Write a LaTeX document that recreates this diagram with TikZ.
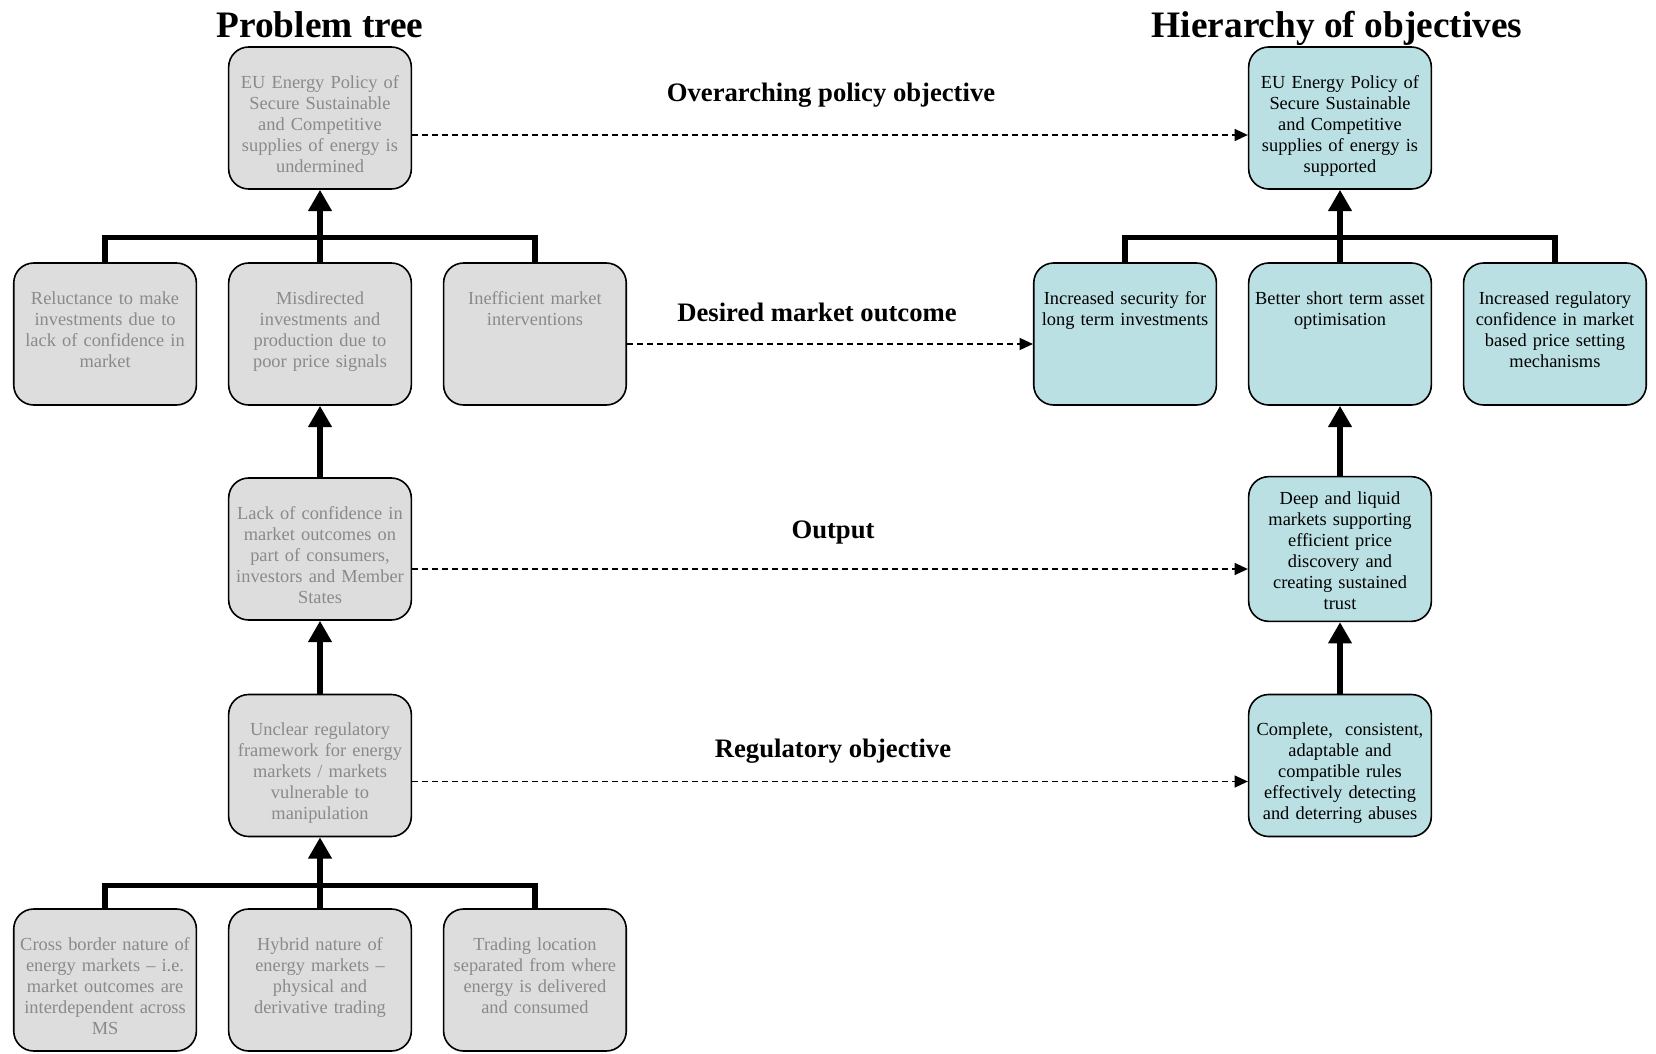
\documentclass[tikz,border=0pt]{standalone}
\usepackage{fontspec}
\setmainfont{Liberation Serif}
\usetikzlibrary{arrows.meta, calc, positioning}

\definecolor{probfill}{RGB}{221,221,221}
\definecolor{probtext}{RGB}{138,138,138}
\definecolor{objfill}{RGB}{186,224,227}

\begin{document}
\begin{tikzpicture}[
    % One unit is one pixel of the layout, y grows downwards
    x=0.75pt,
    y=-0.75pt,
    cell/.style={draw, line width=1.2pt, rounded corners=15pt,
        minimum width=137pt, text width=134pt, align=center,
        inner xsep=0pt, inner ysep=20.75pt, text height=10pt, text depth=55pt,
        font=\fontsize{13.8pt}{15.75pt}\selectfont},
    problem/.style={cell, fill=probfill, text=probtext},
    objective/.style={cell, fill=objfill, text=black},
    title/.style={font=\fontsize{28pt}{32pt}\selectfont\bfseries},
    level/.style={font=\fontsize{20pt}{24pt}\selectfont\bfseries},
    bar/.style={line width=4pt},
    up/.style={line width=5pt, -{Triangle[length=16pt, width=17pt]}},
    link/.style={line width=1.2pt, dash pattern=on 4.5pt off 3pt,
        -{Triangle[length=10pt, width=9pt]}}
]
    \useasboundingbox (0,0) rectangle (1656,1053);

    % --- Problem tree ---
    \node[problem] (pt1) at (320,118) {EU Energy Policy of\\Secure Sustainable\\and Competitive\\supplies of energy is\\undermined};
    \node[problem] (pm2) at (320,334) {Misdirected\\investments and\\production due to\\poor price signals};
    \node[problem, left=23pt of pm2] (pl2) {Reluctance to make\\investments due to\\lack of confidence in\\market};
    \node[problem, right=23pt of pm2] (pr2) {Inefficient market\\interventions};
    \node[problem] (pp3) at (320,549) {Lack of confidence in\\market outcomes on\\part of consumers,\\investors and Member\\States};
    \node[problem] (pc4) at (320,765.5) {Unclear regulatory\\framework for energy\\markets / markets\\vulnerable to\\manipulation};
    \node[problem] (pm5) at (320,980) {Hybrid nature of\\energy markets --\\physical and\\derivative trading};
    \node[problem, left=23pt of pm5] (pl5) {Cross border nature of\\energy markets -- i.e.\\market outcomes are\\interdependent across\\MS};
    \node[problem, right=23pt of pm5] (pr5) {Trading location\\separated from where\\energy is delivered\\and consumed};

    \draw[bar] (pl2.north) -- ++(0,-25) -| (pr2.north);
    \draw[up] (pm2.north) -- (pt1.south);
    \draw[up] (pp3.north) -- (pm2.south);
    \draw[up] (pc4.north) -- (pp3.south);
    \draw[bar] (pl5.north) -- ++(0,-23) -| (pr5.north);
    \draw[up] (pm5.north) -- (pc4.south);

    % --- Hierarchy of objectives ---
    \node[objective] (ht1) at (1340,118) {EU Energy Policy of\\Secure Sustainable\\and Competitive\\supplies of energy is\\supported};
    \node[objective] (hm2) at (1340,334) {Better short term asset\\optimisation};
    \node[objective, left=23pt of hm2] (hl2) {Increased security for\\long term investments};
    \node[objective, right=23pt of hm2] (hr2) {Increased regulatory\\confidence in market\\based price setting\\mechanisms};
    \node[objective, text height=-2pt, text depth=67pt] (ho3) at (1340,549) {Deep and liquid\\markets supporting\\efficient price\\discovery and\\creating sustained\\trust};
    \node[objective] (hc4) at (1340,765.5) {Complete,\ \ consistent,\\adaptable and\\compatible rules\\effectively detecting\\and deterring abuses};

    \draw[bar] (hl2.north) -- ++(0,-25) -| (hr2.north);
    \draw[up] (hm2.north) -- (ht1.south);
    \draw[up] (ho3.north) -- (hm2.south);
    \draw[up] (hc4.north) -- (ho3.south);

    % --- Links between the two trees ---
    \draw[link] ($(pt1.east)+(0,17)$) -- ($(ht1.west)+(0,17)$);
    \draw[link] ($(pr2.east)+(0,10)$) -- ($(hl2.west)+(0,10)$);
    \draw[link] ($(pp3.east)+(0,20)$) -- ($(ho3.west)+(0,20)$);
    \draw[link] ($(pc4.east)+(0,16)$) -- ($(hc4.west)+(0,16)$);

    \node[level] (lpolicy) at (831,95) {Overarching policy objective};
    \node[level] (lmarket) at (817,312) {Desired market outcome};
    \node[level] (loutput) at (833,533) {Output};
    \node[level] (lrule) at (833,751) {Regulatory objective};

    % --- Titles ---
    \node[title] (ptitle) at (320,25) {Problem tree};
    \node[title] (htitle) at (1337,28) {Hierarchy of objectives};
\end{tikzpicture}
\end{document}
